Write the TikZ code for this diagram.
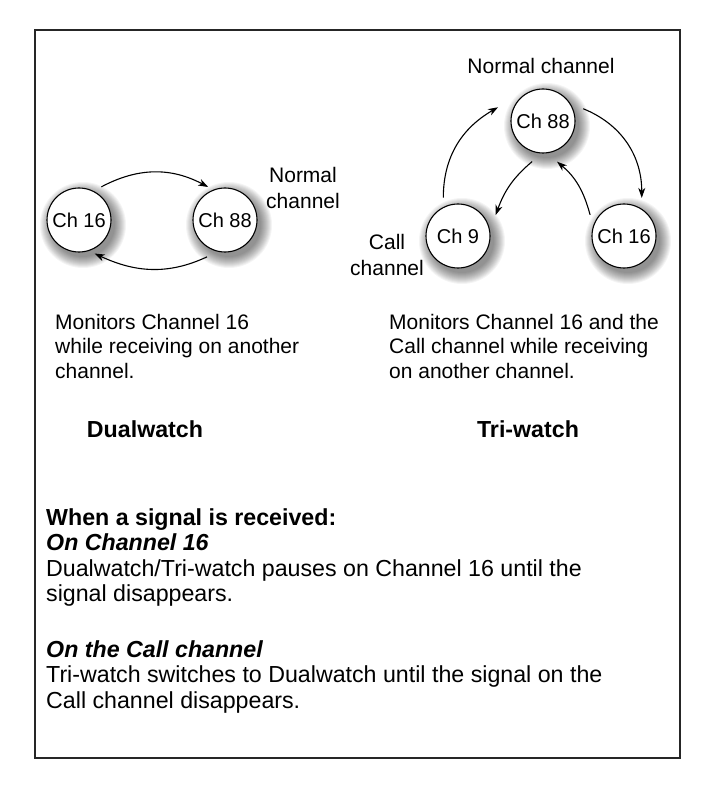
\documentclass[tikz,border=0pt]{standalone}
\usepackage{fontspec}
\setmainfont{Liberation Sans}
\usetikzlibrary{arrows.meta,calc}
\newcommand{\mkshadow}[2]{\foreach \k in {0,...,11}{\fill[black,opacity=0.045] (#1+4,#2-5) circle ({43-\k});}}
\begin{document}
\begin{tikzpicture}[x=1pt,y=1pt,
  chan/.style={circle, draw, line width=1.1pt, fill=white, minimum size=64pt, inner sep=0pt, font=\fontsize{20}{24}\selectfont},
  arr/.style={line width=1.1pt, -{Stealth[length=10pt,width=7pt,inset=3pt]}},
  txt/.style={font=\fontsize{21}{25}\selectfont, inner sep=0pt, anchor=base west},
  ctxt/.style={font=\fontsize{21}{25}\selectfont, inner sep=0pt, anchor=base},
  htxt/.style={font=\fontsize{23.2}{27}\selectfont\bfseries, inner sep=0pt, anchor=base},
  ltxt/.style={font=\fontsize{23.2}{27}\selectfont, inner sep=0pt, anchor=base west},
  btxt/.style={font=\fontsize{23.2}{27}\selectfont\bfseries, inner sep=0pt, anchor=base west},
  bitxt/.style={font=\fontsize{23.2}{27}\selectfont\bfseries\itshape, inner sep=0pt, anchor=base west},
]
\useasboundingbox (0,0) rectangle (712,-791);
\fill[white] (0,0) rectangle (712,-791);
\draw[line width=1.3pt, draw=black!85] (35,-30) rectangle (680,-758);

% shadows
\mkshadow{79}{-220}
\mkshadow{225}{-220}
\mkshadow{543}{-121}
\mkshadow{458}{-236}
\mkshadow{624}{-236}

% channel circles
\node[chan] (d16) at (79,-220) {Ch 16};
\node[chan] (d88) at (225,-220) {Ch 88};
\node[chan] (t88) at (543,-121) {Ch 88};
\node[chan] (t9) at (458,-236) {Ch 9};
\node[chan] (t16) at (624,-236) {Ch 16};

% dualwatch arrows
\draw[arr] ($(d16)+(56:40)$) to[out=28,in=152] ($(d88)+(117:37)$);
\draw[arr] ($(d88)+(244:41)$) to[out=205,in=335] ($(d16)+(295:37)$);

% tri-watch arrows
\draw[arr] ($(t9)+(111:41)$) to[out=90,in=210] ($(t88)+(163:47)$);
\draw[arr] ($(t88)+(17:42)$) to[out=-22,in=90] ($(t16)+(65:42)$);
\draw[arr] ($(t88)+(255:42)$) to[out=-140,in=70] ($(t9)+(29:43)$);
\draw[arr] ($(t16)+(148:40)$) to[out=105,in=-40] ($(t88)+(289:43)$);

% labels
\node[ctxt] (dn1) at (303,-182.5) {Normal};
\node[ctxt] (dn2) at (303,-208.5) {channel};
\node[ctxt] (tn) at (541,-73.5) {Normal channel};
\node[ctxt] (tc1) at (387,-249.5) {Call};
\node[ctxt] (tc2) at (387,-275.5) {channel};

% descriptions
\node[txt] (l1) at (55,-329) {Monitors Channel 16};
\node[txt] (l2) at (55,-353.5) {while receiving on another};
\node[txt] (l3) at (55,-378) {channel.};
\node[txt] (r1) at (389,-329) {Monitors Channel 16 and the};
\node[txt] (r2) at (389,-353.5) {Call channel while receiving};
\node[txt] (r3) at (389,-378) {on another channel.};

\node[htxt] (dw) at (145,-437.5) {Dualwatch};
\node[htxt] (tw) at (528,-437.5) {Tri-watch};

% bottom text
\node[btxt] (b1) at (46,-525) {When a signal is received:};
\node[bitxt] (b2) at (46,-550.5) {On Channel 16};
\node[ltxt] (b3) at (46,-576) {Dualwatch/Tri-watch pauses on Channel 16 until the};
\node[ltxt] (b4) at (46,-601.5) {signal disappears.};
\node[bitxt] (b5) at (46,-657) {On the Call channel};
\node[ltxt] (b6) at (46,-682.5) {Tri-watch switches to Dualwatch until the signal on the};
\node[ltxt] (b7) at (46,-708) {Call channel disappears.};
\end{tikzpicture}
\end{document}
